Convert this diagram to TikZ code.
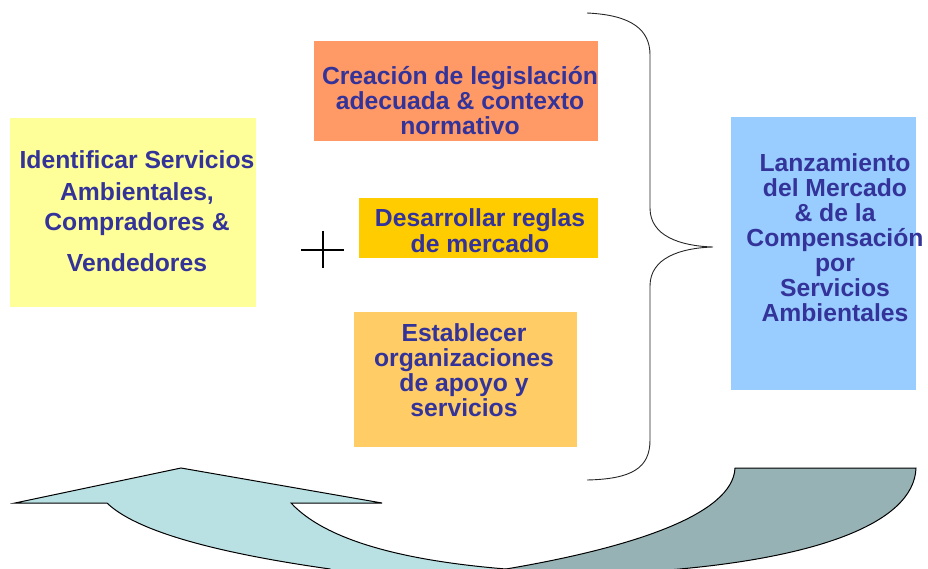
\documentclass[tikz,border=0pt]{standalone}
\usepackage{fontspec}
\setmainfont{Liberation Sans}
\definecolor{txtblue}{HTML}{333399}
\definecolor{boxyellow}{HTML}{FFFF99}
\definecolor{boxorange}{HTML}{FF9966}
\definecolor{boxgold}{HTML}{FFCC00}
\definecolor{boxlorange}{HTML}{FFCC66}
\definecolor{boxblue}{HTML}{99CCFF}
\definecolor{arrlight}{HTML}{B9E0E3}
\definecolor{arrdark}{HTML}{96B2B5}
\tikzset{
  box/.style={rectangle, draw=none, inner sep=0pt, anchor=north west},
  lbl/.style={inner sep=0pt, anchor=base, text=txtblue, font=\fontsize{24.7}{25}\selectfont\bfseries},
}
\newcommand{\mylines}[1]{\parbox[t]{320pt}{\centering #1}}
\begin{document}
\begin{tikzpicture}[x=1pt,y=-1pt]
\useasboundingbox (0,0) rectangle (928,569);
% arrow
\begin{scope}
\clip (0,0) rectangle (928,569);
\draw[fill=arrlight, line width=1pt] (107,503) -- (15,503) -- (181,468) -- (382,503) -- (291,503)
  .. controls (330,545) and (420,562) .. (506,569) -- (506,580) -- (330,580) -- (330,569)
  .. controls (210,552) and (135,530) .. cycle;
\draw[fill=arrdark, line width=1pt] (735,468) -- (916,468)
  .. controls (914,525) and (810,560) .. (655,571) -- (655,580) -- (506,580) -- (506,569)
  .. controls (630,548) and (733,515) .. cycle;
\end{scope}
% boxes
\node[box, fill=boxyellow, minimum width=246pt, minimum height=189pt] (ident) at (10,118) {};
\node[box, fill=boxorange, minimum width=284pt, minimum height=100pt] (legis) at (314,41) {};
\node[box, fill=boxgold, minimum width=239pt, minimum height=60pt] (reglas) at (359,198) {};
\node[box, fill=boxlorange, minimum width=223pt, minimum height=135pt] (organ) at (354,312) {};
\node[box, fill=boxblue, minimum width=185pt, minimum height=273pt] (lanz) at (731,117) {};
% texts
\node[lbl] (identtxt) at (137,168.3) {\mylines{Identificar Servicios\\[7.4pt] Ambientales,\\[5pt] Compradores \&\\[16pt] Vendedores}};
\node[lbl] (legistxt) at (460,84.3) {\mylines{Creación de legislación\\ adecuada \& contexto\\ normativo}};
\node[lbl] (reglastxt) at (480,227) {\mylines{Desarrollar reglas\\ de mercado}};
\node[lbl] (organtxt) at (464,341) {\mylines{Establecer\\ organizaciones\\ de apoyo y\\ servicios}};
\node[lbl] (lanztxt) at (835,171.7) {\mylines{Lanzamiento\\ del Mercado\\ \& de la\\ Compensación\\ por\\ Servicios\\ Ambientales}};
% plus sign
\coordinate (plusL) at (301,250);
\coordinate (plusR) at (344,250);
\coordinate (plusT) at (322.5,231);
\coordinate (plusB) at (322.5,268);
\draw[line width=2pt] (plusL) -- (plusR);
\draw[line width=2pt] (plusT) -- (plusB);
% brace
\coordinate (brTop) at (587,13);
\coordinate (brTip) at (713,247);
\coordinate (brBot) at (587,480);
\draw[line width=0.9pt, black!85] (brTop) .. controls (632,15) and (650,30) .. (650,55) -- (650,208)
  .. controls (650,236) and (680,246) .. (brTip)
  .. controls (680,248) and (650,258) .. (650,286) -- (650,440)
  .. controls (650,468) and (632,479) .. (brBot);
\end{tikzpicture}
\end{document}
